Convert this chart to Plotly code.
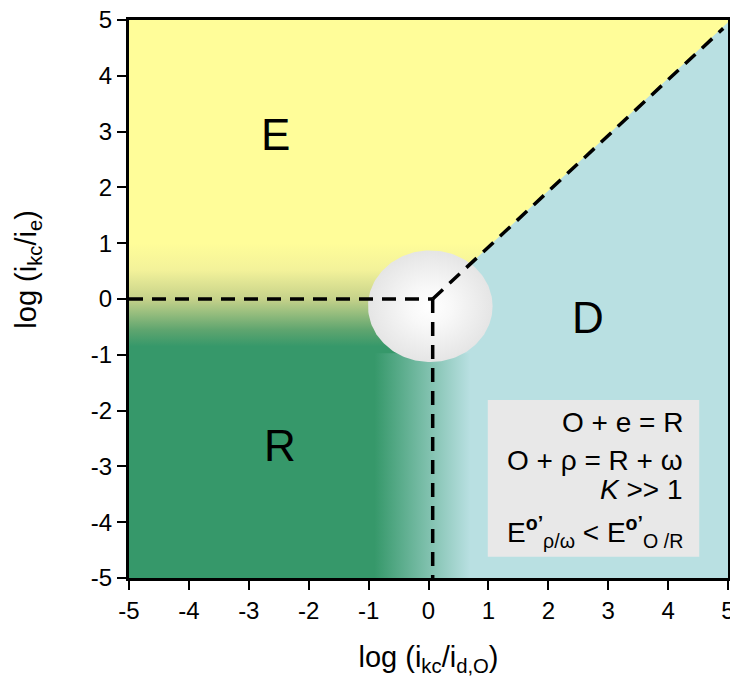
import numpy as np
import plotly.graph_objects as go

# ---- axes ----
axis_range = [-5, 5]
tick_vals = [-5, -4, -3, -2, -1, 0, 1, 2, 3, 4, 5]
tick_text = ["-5", "-4", "-3", "-2", "-1", "0", "1", "2", "3", "4", "5"]
x_title = "log (i<sub>kc</sub>/i<sub>d,O</sub>)"
y_title = "log (i<sub>kc</sub>/i<sub>e</sub>)"

# ---- regime map geometry (data units) ----
corner = [0.07, 0.0]            # meeting point of the three dashed borders
diag_end = [4.92, 4.85]         # end of the dashed diagonal
diag_edge_y = 4.96              # where the E/D colour border meets x = 5
fade_top, fade_bottom = 1.0, -0.85     # E -> R vertical fade
band_top = -0.97                        # top of R -> D horizontal fade band
fade_left, fade_right = -0.9, 0.7       # R -> D horizontal fade
ellipse_center = [0.03, -0.13]
ellipse_radius = [1.04, 1.0]

# ---- region labels ----
region_labels = ["E", "R", "D"]
region_x = [-2.55, -2.48, 2.66]
region_y = [2.94, -2.62, -0.33]

# ---- info box ----
box_x = [0.99, 4.52]
box_y = [-4.62, -1.81]
box_lines = [
    "O + e = R",
    "O + ρ = R + ω",
    "<i>K</i> &gt;&gt; 1",
    "E<sup><b>o’</b></sup><sub>ρ/ω</sub> &lt; E<sup><b>o’</b></sup><sub>O /R</sub>",
]
box_line_y = [-2.22, -2.9, -3.42, -4.18]
box_text_x = 4.28

# ---- colours ----
yellow = "#FFFD99"
blue = "#B9E0E2"
green = "#36986A"
grey_box = "#E8E8E8"
FONT = "Arial, Liberation Sans, sans-serif"

fig = go.Figure()

x0, x1 = axis_range
y0, y1 = axis_range
slope = (diag_edge_y - corner[1]) / (x1 - corner[0])

# E region (yellow)
fig.add_trace(go.Scatter(
    x=[x0, x1, x1, corner[0], x0], y=[y1, y1, diag_edge_y, corner[1], corner[1]],
    mode="lines", line=dict(width=0), fill="toself", fillcolor=yellow,
    hoverinfo="skip", showlegend=False))

# E -> R vertical fade
fx_top = corner[0] + (fade_top - corner[1]) / slope
fig.add_trace(go.Scatter(
    x=[x0, fx_top, corner[0], corner[0], x0],
    y=[fade_top, fade_top, corner[1], band_top - 0.05, band_top - 0.05],
    mode="lines", line=dict(width=0), fill="toself",
    fillgradient=dict(type="vertical", start=fade_bottom, stop=fade_top,
                      colorscale=[[0, green], [0.16, "#5FA56F"], [0.46, "#C6D28A"],
                                  [0.74, "#F3F29A"], [1, yellow]]),
    hoverinfo="skip", showlegend=False))

# R -> D horizontal fade band
fig.add_trace(go.Scatter(
    x=[x0, fade_right + 0.2, fade_right + 0.2, x0],
    y=[y0, y0, band_top, band_top],
    mode="lines", line=dict(width=0), fill="toself",
    fillgradient=dict(type="horizontal", start=fade_left, stop=fade_right,
                      colorscale=[[0, green], [1, blue]]),
    hoverinfo="skip", showlegend=False))

# central mixed-regime ellipse
t = np.linspace(0, 2 * np.pi, 181)
fig.add_trace(go.Scatter(
    x=ellipse_center[0] + ellipse_radius[0] * np.cos(t),
    y=ellipse_center[1] + ellipse_radius[1] * np.sin(t),
    mode="lines", line=dict(width=0), fill="toself",
    fillgradient=dict(type="radial",
                      colorscale=[[0, "#FFFFFF"], [0.35, "#F8F8F8"], [1, "#E5E5E5"]]),
    hoverinfo="skip", showlegend=False))

# dashed borders
dash_style = dict(color="black", width=3.5, dash="14px,9px")
for xs, ys in [([x0, corner[0]], [corner[1], corner[1]]),
               ([corner[0], corner[0]], [corner[1], y0]),
               ([corner[0], diag_end[0]], [corner[1], diag_end[1]])]:
    fig.add_trace(go.Scatter(x=xs, y=ys, mode="lines", line=dash_style,
                             hoverinfo="skip", showlegend=False))

# info box
fig.add_shape(type="rect", x0=box_x[0], x1=box_x[1], y0=box_y[0], y1=box_y[1],
              fillcolor=grey_box, line=dict(width=0), layer="above")

annotations = []
for lab, xx, yy in zip(region_labels, region_x, region_y):
    annotations.append(dict(x=xx, y=yy, text=lab, showarrow=False,
                            font=dict(size=44, color="black", family=FONT)))
for line, yy in zip(box_lines, box_line_y):
    annotations.append(dict(x=box_text_x, y=yy, text=line, showarrow=False,
                            xanchor="right", yanchor="middle",
                            font=dict(size=28, color="black", family=FONT)))
annotations.append(dict(xref="paper", yref="paper", x=-0.169, y=0.554,
                        xanchor="center", yanchor="middle",
                        text=y_title, textangle=-90, showarrow=False,
                        font=dict(size=29, color="black", family=FONT)))

axis_common = dict(range=axis_range, tickvals=tick_vals, ticktext=tick_text,
                   showgrid=False, zeroline=False, showline=True, linecolor="black",
                   linewidth=3, mirror=True, ticks="outside", ticklen=9,
                   tickwidth=2, tickcolor="black", automargin=False,
                   ticklabeloverflow="allow",
                   tickfont=dict(size=24, color="black", family=FONT))

# the page body adds an 8px margin, so the figure is sized/offset to compensate
fig.update_layout(
    width=730, height=669,
    margin=dict(l=121, r=10, t=12, b=99),
    paper_bgcolor="white", plot_bgcolor=blue,
    xaxis=dict(**axis_common,
               title=dict(text=x_title, standoff=29,
                          font=dict(size=29, color="black", family=FONT))),
    yaxis=dict(**axis_common),
    annotations=annotations,
    showlegend=False,
)

fig.write_html("out.html")
